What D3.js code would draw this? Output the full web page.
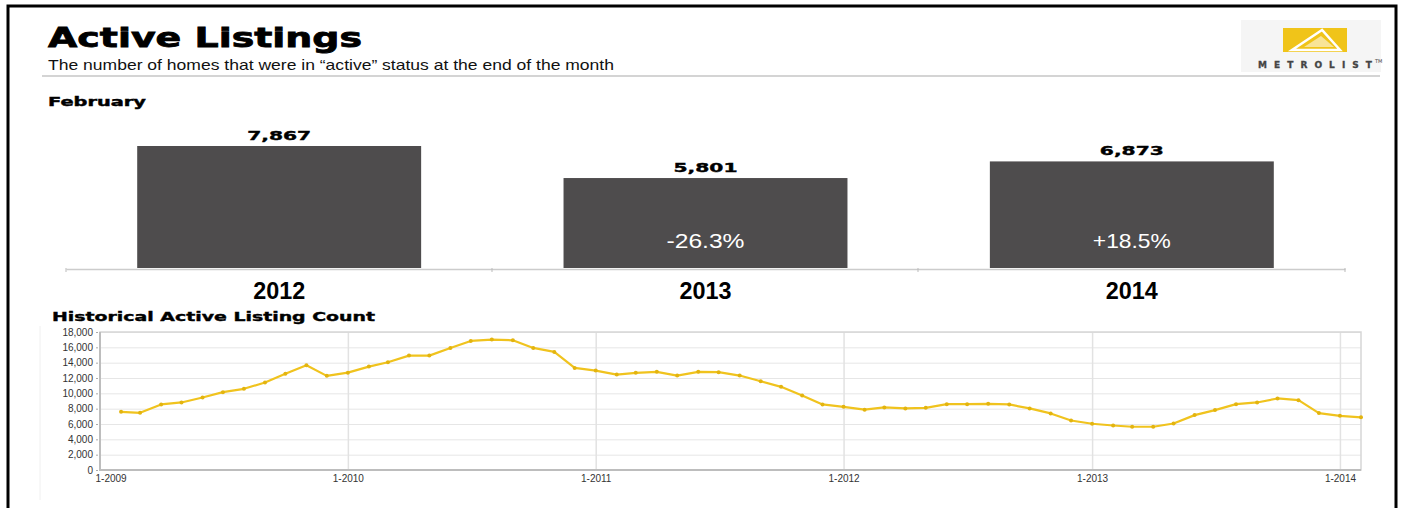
<!DOCTYPE html>
<html>
<head>
<meta charset="utf-8">
<script src="https://cdn.jsdelivr.net/npm/d3@7"></script>
<style>
  body { margin: 0; background: #fff; }
  svg { display: block; }
</style>
</head>
<body>
<script>
var width = 1402;
var height = 508;

// February totals
var years = ["2012", "2013", "2014"];
var febValues = [7867, 5801, 6873];
var febChange = ["", "-26.3%", "+18.5%"];

// monthly active listings, Feb 2009 .. Feb 2014
var histStart = new Date(2009, 1, 1);
var histValues = [
  7590, 7460, 8550, 8810, 9460, 10150, 10590, 11410, 12540, 13670, 12280,
  12700, 13490, 14060, 14920, 14920, 15920, 16830, 17010, 16920, 15920, 15400, 13320,
  12970, 12450, 12670, 12800, 12320, 12800, 12760, 12320, 11580, 10850, 9720, 8550,
  8240, 7867, 8160, 8030, 8110, 8590, 8590, 8630, 8550, 8030, 7380, 6460,
  6030, 5801, 5640, 5640, 6070, 7160, 7810, 8590, 8810, 9330, 9110, 7420,
  7070, 6873
];
var yTicks = [0, 2000, 4000, 6000, 8000, 10000, 12000, 14000, 16000, 18000];
var xTickLabels = ["1-2009", "1-2010", "1-2011", "1-2012", "1-2013", "1-2014"];

var heavy = "'DejaVu Sans', 'Liberation Sans', sans-serif";
var narrow = "'Liberation Sans Narrow', 'Liberation Sans', Arial, sans-serif";

var svg = d3.select("body")
            .append("svg")
            .attr("width", width)
            .attr("height", height);

// page frame
svg.append("rect")
  .attr("x", 8).attr("y", 6)
  .attr("width", 1388).attr("height", 520)
  .attr("fill", "none")
  .attr("stroke", "#000")
  .attr("stroke-width", 3);

// header
svg.append("text")
  .attr("x", 48).attr("y", 47)
  .attr("textLength", 314)
  .attr("lengthAdjust", "spacingAndGlyphs")
  .style("font-family", heavy)
  .style("font-weight", "bold")
  .style("font-size", "27px")
  .attr("stroke", "#000").attr("stroke-width", 0.8)
  .text("Active Listings");

svg.append("text")
  .attr("x", 48).attr("y", 70)
  .attr("textLength", 566)
  .attr("lengthAdjust", "spacingAndGlyphs")
  .style("font-family", narrow)
  .style("font-size", "15px")
  .attr("fill", "#111")
  .text("The number of homes that were in \u201cactive\u201d status at the end of the month");

svg.append("line")
  .attr("x1", 42).attr("x2", 1380)
  .attr("y1", 76).attr("y2", 76)
  .attr("stroke", "#d4d4d4")
  .attr("stroke-width", 2);

// logo
var logo = svg.append("g");
logo.append("rect")
  .attr("x", 1241).attr("y", 20)
  .attr("width", 140).attr("height", 52)
  .attr("fill", "#f5f5f5");
logo.append("rect")
  .attr("x", 1283).attr("y", 28)
  .attr("width", 64).attr("height", 24)
  .attr("fill", "#f0c419");
logo.append("polygon")
  .attr("points", "1322,30 1292,50 1340,50")
  .attr("fill", "none")
  .attr("stroke", "#fff")
  .attr("stroke-width", 2.5);
logo.append("polygon")
  .attr("points", "1321,36 1304,47 1334,47")
  .attr("fill", "#fff")
  .attr("opacity", 0.55);
logo.append("text")
  .attr("x", 1258).attr("y", 68)
  .attr("textLength", 114)
  .style("font-family", heavy)
  .style("font-weight", "bold")
  .style("font-size", "9px")
  .attr("fill", "#444")
  .attr("stroke", "#444").attr("stroke-width", 0.3)
  .text("METROLIST");
logo.append("text")
  .attr("x", 1375).attr("y", 63)
  .style("font-family", heavy)
  .style("font-size", "5px")
  .attr("fill", "#444")
  .text("TM");

// February bar chart
svg.append("text")
  .attr("x", 48).attr("y", 106)
  .attr("textLength", 98)
  .attr("lengthAdjust", "spacingAndGlyphs")
  .style("font-family", heavy)
  .style("font-weight", "bold")
  .style("font-size", "12px")
  .attr("stroke", "#000").attr("stroke-width", 0.4)
  .text("February");

var bx = d3.scaleBand()
  .domain(years)
  .range([66, 1345])
  .paddingInner(0.334)
  .paddingOuter(0.167);

var by = d3.scaleLinear()
  .domain([0, d3.max(febValues)])
  .range([268, 146]);

var bars = svg.append("g").selectAll("g")
  .data(years)
  .enter().append("g");

bars.append("rect")
  .attr("x", function(d) { return bx(d); })
  .attr("width", bx.bandwidth())
  .attr("y", function(d, i) { return by(febValues[i]); })
  .attr("height", function(d, i) { return by(0) - by(febValues[i]); })
  .attr("fill", "#4e4c4d");

bars.append("text")
  .attr("x", function(d) { return bx(d) + bx.bandwidth() / 2; })
  .attr("y", function(d, i) { return by(febValues[i]) - 6; })
  .attr("text-anchor", "middle")
  .attr("textLength", 64)
  .attr("lengthAdjust", "spacingAndGlyphs")
  .style("font-family", heavy)
  .style("font-weight", "bold")
  .style("font-size", "13px")
  .attr("stroke", "#000").attr("stroke-width", 0.4)
  .text(function(d, i) { return d3.format(",")(febValues[i]); });

bars.append("text")
  .attr("x", function(d) { return bx(d) + bx.bandwidth() / 2; })
  .attr("y", 248)
  .attr("text-anchor", "middle")
  .attr("textLength", function(d, i) { return febChange[i] ? 78 : null; })
  .attr("lengthAdjust", "spacingAndGlyphs")
  .style("font-family", narrow)
  .style("font-size", "21px")
  .attr("fill", "#fff")
  .text(function(d, i) { return febChange[i]; });

// category axis
var bAxis = svg.append("g")
  .attr("transform", "translate(0,269)")
  .call(d3.axisBottom(bx).tickSize(0).tickPadding(14));
bAxis.select(".domain").attr("stroke", "#ccc").attr("stroke-width", 1.5);
bAxis.selectAll("text")
  .attr("textLength", 52)
  .attr("lengthAdjust", "spacingAndGlyphs")
  .style("font-family", narrow)
  .style("font-weight", "bold")
  .style("font-size", "23px")
  .attr("fill", "#000");
bAxis.selectAll(".sep")
  .data([66, 492, 918, 1345])
  .enter().append("line")
  .attr("x1", function(d) { return d; })
  .attr("x2", function(d) { return d; })
  .attr("y1", -1).attr("y2", 3)
  .attr("stroke", "#bbb");

// historical line chart
svg.append("text")
  .attr("x", 52).attr("y", 321)
  .attr("textLength", 323)
  .attr("lengthAdjust", "spacingAndGlyphs")
  .style("font-family", heavy)
  .style("font-weight", "bold")
  .style("font-size", "13px")
  .attr("stroke", "#000").attr("stroke-width", 0.4)
  .text("Historical Active Listing Count");

svg.append("line")
  .attr("x1", 40).attr("x2", 40)
  .attr("y1", 326).attr("y2", 500)
  .attr("stroke", "#f0f0f0");

var histData = histValues.map(function(v, i) {
  return {date: d3.timeMonth.offset(histStart, i), value: v};
});

var lx = d3.scaleTime()
  .domain([new Date(2009, 0, 1), new Date(2014, 1, 1)])
  .range([100, 1361]);

var ly = d3.scaleLinear()
  .domain([0, 18000])
  .range([470, 332]);

var plot = svg.append("g");

// horizontal grid
plot.append("g")
  .attr("transform", "translate(100,0)")
  .call(d3.axisLeft(ly).tickValues(yTicks).tickSize(-1261).tickFormat(""))
  .call(function(g) {
    g.select(".domain").remove();
    g.selectAll("line").attr("stroke", "#e6e6e6");
  });

// year grid
var yearDates = xTickLabels.map(function(s) { return new Date(+s.split("-")[1], 0, 1); });
plot.append("g")
  .attr("transform", "translate(0,470)")
  .call(d3.axisBottom(lx).tickValues(yearDates.slice(1)).tickSize(-138).tickFormat(""))
  .call(function(g) {
    g.select(".domain").remove();
    g.selectAll("line").attr("stroke", "#e2e2e2").attr("stroke-width", 1.5);
  });

plot.append("rect")
  .attr("x", 100).attr("y", 332)
  .attr("width", 1261).attr("height", 138)
  .attr("fill", "none")
  .attr("stroke", "#d6d6d6")
  .attr("stroke-width", 1.5);
plot.append("path")
  .attr("d", "M100,332V470H1361")
  .attr("fill", "none")
  .attr("stroke", "#bdbdbd")
  .attr("stroke-width", 2);

// y labels
var yAxis = plot.append("g")
  .attr("transform", "translate(98,0)")
  .call(d3.axisLeft(ly).tickValues(yTicks).tickSize(2).tickPadding(3).tickFormat(d3.format(",")));
yAxis.select(".domain").remove();
yAxis.selectAll("line").attr("stroke", "#aaa");
yAxis.selectAll("text")
  .style("font-family", narrow)
  .style("font-size", "10px")
  .attr("fill", "#333");

// x labels
var xAxis = plot.append("g")
  .attr("transform", "translate(0,470)")
  .call(d3.axisBottom(lx).tickValues(yearDates).tickSize(0).tickPadding(5)
    .tickFormat(function(d, i) { return xTickLabels[i]; }));
xAxis.select(".domain").remove();
xAxis.selectAll("text")
  .style("font-family", narrow)
  .style("font-size", "10px")
  .attr("fill", "#333");
xAxis.select(".tick text").attr("text-anchor", "start").attr("dx", -5);

var line = d3.line()
  .x(function(d) { return lx(d.date); })
  .y(function(d) { return ly(d.value); });

plot.append("path")
  .datum(histData)
  .attr("d", line)
  .attr("fill", "none")
  .attr("stroke", "#f0c31e")
  .attr("stroke-width", 2.2)
  .attr("stroke-linejoin", "round");

plot.append("g").selectAll("circle")
  .data(histData)
  .enter().append("circle")
  .attr("cx", function(d) { return lx(d.date); })
  .attr("cy", function(d) { return ly(d.value); })
  .attr("r", 2)
  .attr("fill", "#e3b40f");
</script>
</body>
</html>
